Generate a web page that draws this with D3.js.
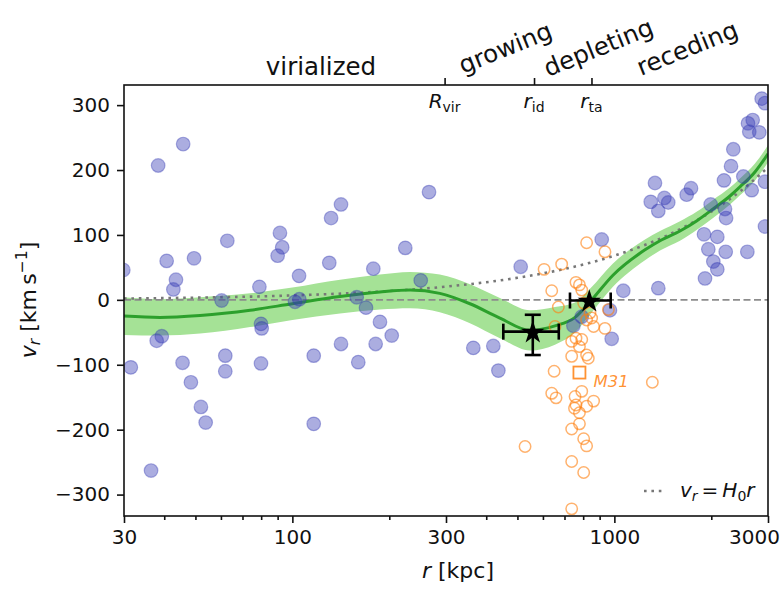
<!DOCTYPE html>
<html>
<head>
<meta charset="utf-8">
<script src="https://cdn.jsdelivr.net/npm/d3@7"></script>
<style>
  body { margin: 0; background: #fff; }
  text { font-family: "DejaVu Sans", sans-serif; fill: #111; }
</style>
</head>
<body>
<svg id="chart" width="783" height="589"></svg>
<script>
// ---------- data ----------
// satellites / field galaxies: distance r [kpc] and radial velocity v [km/s]
const blueR = [29.85, 38.3, 45.8, 40.7, 43.5, 42.7, 49.5, 62.8, 60.3, 79, 91.5, 93, 90, 104.9, 101.9, 105.1,
  131.9, 141.6, 130.2, 31.5, 37.9, 39.3, 45.6, 48.4, 52, 53.8, 36.4, 61.9, 61.9, 79.9, 80.3, 79.9,
  116.5, 116.5, 141.6, 178.4, 224.2, 250.4, 158.4, 169.3, 187.1, 203.5, 181.4, 160.2, 364.7, 420.8,
  436.3, 511.8, 913.5, 1066, 969, 792, 746, 981, 265.7, 1369, 1912, 1898, 2088, 1958, 2217, 2588,
  2029, 2088, 2936, 1991, 2206, 2223, 1337, 1297, 1369, 1430, 1470, 1677, 1730, 2190, 2303, 2515,
  2670, 2936, 2341, 2867, 2935, 2689, 2624, 2819, 2600];
const blueV = [46, 207, 240, 60, 31, 16, 64, 91, -1, 20, 103, 81, 68, 37, -3, 1,
  126, 147, 57, -104, -63, -56, -97, -127, -165, -189, -263, -86, -110, -37, -44, -98,
  -86, -191, -68, 48, 80, 30, 4, -12, -34, -55, -68, -96, -74, -71,
  -109, 51, 93, 14, -16, -26, -40, -60, 166, 18, 33, 101, 97, 78, 74, 74,
  59, 47, 113, 147, 140, 126, 180, 151, 137, 157, 150, 162, 172, 184, 206, 190,
  169, 182, 232, 310, 303, 277, 259, 258, 272];

// M31 satellites
const orangeR = [528, 605, 686, 639, 670, 654, 650, 639, 659, 737, 737, 737, 820, 935, 760, 779, 792, 803,
  840, 820, 862, 935, 958, 760, 792, 737, 779, 737, 820, 830, 755, 792, 760, 752, 820, 862, 779, 779,
  803, 820, 803, 1312, 850];
const orangeV = [-226, 47, 55, 14, -11, -41, -110, -144, -151, -199, -249, -322, 88, 74, 27, 23, 15, -5,
  -20, -31, -41, -44, -15, -59, -61, -64, -72, -87, -85, -90, -149, -141, -162, -167, -164, -156, -174, -191,
  -214, -225, -266, -127, -28];

const m31R = 779, m31V = -112;

// mean radial velocity profile and its 1-sigma half width
const curveR = [30, 38.8, 51.7, 73.9, 100, 140.6, 187, 232, 287, 356, 441, 547, 654, 755, 840, 990,
  1245, 1386, 1599, 1805, 2025, 2286, 2455, 2733, 3000];
const curveV = [-25, -27, -24, -16, -6, 5, 12, 15, 10, -6, -28, -47, -40, -27, -3, 38,
  77, 91, 106, 122, 140, 160, 174, 197, 225];
const curveErr = [29, 28, 28, 26, 25, 26, 27, 28, 29, 30, 31, 31, 29, 23, 20, 18,
  16, 15, 15, 14, 14, 13, 13, 13, 13];

// characteristic radii (stars with error bars)
const starR = [558, 836];
const starV = [-49, -1];
const starRLo = [452, 728], starRHi = [672, 974];
const starVLo = [-85, -4], starVHi = [-23, 3];

// Hubble flow reference
const H0 = 68; // km/s/Mpc
const hubbleR = [30, 50, 100, 200, 300, 500, 700, 1000, 1500, 2000, 2500, 3000];

// axes
const xMajor = [30, 100, 300, 1000, 3000];
const xMinor = [40, 50, 60, 70, 80, 90, 200, 400, 500, 600, 700, 800, 900, 2000];
const yTicks = [-300, -200, -100, 0, 100, 200, 300];
const topRadii = [297, 563, 849];
const topLabels = [["R", "vir"], ["r", "id"], ["r", "ta"]];
const regions = ["virialized", "growing", "depleting", "receding"];

// ---------- layout ----------
const svg = d3.select("#chart");
const P = { l: 124, r: 768, t: 85, b: 516 };
const x = d3.scaleLog().domain([30, 3000]).range([P.l, P.r]);
const y = d3.scaleLinear().domain([-333, 331]).range([P.b, P.t]);

svg.append("rect").attr("width", 783).attr("height", 589).attr("fill", "#fff");

svg.append("defs").append("clipPath").attr("id", "plotclip")
  .append("rect").attr("x", P.l).attr("y", P.t).attr("width", P.r - P.l).attr("height", P.b - P.t);

const plot = svg.append("g").attr("clip-path", "url(#plotclip)");

// band
const curve = curveR.map((r, i) => ({ r, v: curveV[i], e: curveErr[i] }));
plot.append("path").datum(curve)
  .attr("d", d3.area().x(d => x(d.r)).y0(d => y(d.v - d.e)).y1(d => y(d.v + d.e)).curve(d3.curveMonotoneX))
  .attr("fill", "rgb(165,226,150)");

// zero line
plot.append("line").attr("x1", P.l).attr("x2", P.r).attr("y1", y(0)).attr("y2", y(0))
  .attr("stroke", "#8c8c8c").attr("stroke-width", 1.8).attr("stroke-dasharray", "7,3.5");

// Hubble flow line
plot.append("path").datum(hubbleR)
  .attr("d", d3.line().x(r => x(r)).y(r => y(H0 * r / 1000)).curve(d3.curveMonotoneX))
  .attr("fill", "none").attr("stroke", "#777").attr("stroke-width", 2.6).attr("stroke-dasharray", "2.6,4.8");

// mean profile
plot.append("path").datum(curve)
  .attr("d", d3.line().x(d => x(d.r)).y(d => y(d.v)).curve(d3.curveMonotoneX))
  .attr("fill", "none").attr("stroke", "#2ca02c").attr("stroke-width", 3);

// galaxies
plot.append("g").selectAll("circle").data(blueR.map((r, i) => [r, blueV[i]])).join("circle")
  .attr("cx", d => x(d[0])).attr("cy", d => y(d[1])).attr("r", 6.8)
  .attr("fill", "rgb(55,60,180)").attr("fill-opacity", 0.42)
  .attr("stroke", "rgb(55,60,180)").attr("stroke-opacity", 0.4).attr("stroke-width", 1.2);

// M31 satellites
plot.append("g").selectAll("circle").data(orangeR.map((r, i) => [r, orangeV[i]])).join("circle")
  .attr("cx", d => x(d[0])).attr("cy", d => y(d[1])).attr("r", 5.7)
  .attr("fill", "none").attr("stroke", "#ff7f0e").attr("stroke-opacity", 0.6).attr("stroke-width", 1.5);

// M31 itself
plot.append("rect").attr("x", x(m31R) - 6).attr("y", y(m31V) - 6).attr("width", 12).attr("height", 12)
  .attr("fill", "none").attr("stroke", "#ff7f0e").attr("stroke-opacity", 0.85).attr("stroke-width", 1.8);
svg.append("text").attr("x", x(m31R) + 14).attr("y", y(m31V) + 14)
  .attr("font-size", 16.5).attr("font-style", "italic").style("fill", "#ff7f0e").style("fill-opacity", 0.85)
  .text("M31");

// stars with error bars
const eb = svg.append("g").attr("stroke", "#000").attr("stroke-width", 2.6);
starR.forEach((r, i) => {
  const cx = x(r), cy = y(starV[i]);
  const x0 = x(starRLo[i]), x1 = x(starRHi[i]);
  const y0 = y(starVLo[i]), y1 = y(starVHi[i]);
  eb.append("line").attr("x1", x0).attr("x2", x1).attr("y1", cy).attr("y2", cy);
  eb.append("line").attr("x1", x0).attr("x2", x0).attr("y1", cy - 8).attr("y2", cy + 8);
  eb.append("line").attr("x1", x1).attr("x2", x1).attr("y1", cy - 8).attr("y2", cy + 8);
  eb.append("line").attr("x1", cx).attr("x2", cx).attr("y1", y0).attr("y2", y1);
  if (Math.abs(y0 - y1) > 12) {
    eb.append("line").attr("x1", cx - 8).attr("x2", cx + 8).attr("y1", y0).attr("y2", y0);
    eb.append("line").attr("x1", cx - 8).attr("x2", cx + 8).attr("y1", y1).attr("y2", y1);
  }
  svg.append("path").attr("d", d3.symbol().type(d3.symbolStar).size(170)())
    .attr("transform", `translate(${cx},${cy + 1})`).attr("fill", "#000");
});

// ---------- axes ----------
function styleAxis(g) {
  g.select(".domain").remove();
  g.selectAll(".tick line").attr("stroke", "#111").attr("stroke-width", 1.6);
  g.selectAll(".tick text").attr("font-size", 20).style("font-family", "DejaVu Sans").attr("fill", "#111");
}
const xAxisG = svg.append("g").attr("transform", `translate(0,${P.b})`)
  .call(d3.axisBottom(x).tickValues(xMajor).tickFormat(d3.format("d")).tickSize(7).tickPadding(7))
  .call(styleAxis);
// keep the last label inside the canvas
xAxisG.selectAll(".tick text").filter(d => d === 3000).attr("dx", -14);
svg.append("g").attr("transform", `translate(0,${P.b})`)
  .call(d3.axisBottom(x).tickValues(xMinor).tickFormat("").tickSize(4))
  .call(styleAxis);
svg.append("g").attr("transform", `translate(${P.l},0)`)
  .call(d3.axisLeft(y).tickValues(yTicks).tickSize(7).tickPadding(7))
  .call(styleAxis);
svg.append("g").attr("transform", `translate(0,${P.t})`)
  .call(d3.axisTop(x).tickValues(topRadii).tickFormat("").tickSize(7))
  .call(styleAxis);

// frame
svg.append("rect").attr("x", P.l).attr("y", P.t).attr("width", P.r - P.l).attr("height", P.b - P.t)
  .attr("fill", "none").attr("stroke", "#111").attr("stroke-width", 1.6);

// radius labels under the top spine
topRadii.forEach((r, i) => {
  const t = svg.append("text").attr("x", x(r)).attr("y", 108).attr("text-anchor", "middle").attr("font-size", 20);
  t.append("tspan").attr("font-style", "italic").text(topLabels[i][0]);
  t.append("tspan").attr("font-size", 14).attr("dy", 4).text(topLabels[i][1]);
});

// region names
svg.append("text").attr("x", 321).attr("y", 75).attr("text-anchor", "middle").attr("font-size", 24.5).text(regions[0]);
const rotPos = [[463, 74], [548, 77], [641, 76]];
rotPos.forEach((p, i) => {
  svg.append("text").attr("transform", `translate(${p[0]},${p[1]}) rotate(-22)`)
    .attr("font-size", 24.5).text(regions[i + 1]);
});

// axis titles
const xl = svg.append("text").attr("x", 458).attr("y", 578).attr("text-anchor", "middle").attr("font-size", 22);
xl.append("tspan").attr("font-style", "italic").text("r");
xl.append("tspan").text(" [kpc]");

const yl = svg.append("text").attr("transform", "translate(36,300) rotate(-90)").attr("text-anchor", "middle").attr("font-size", 22);
yl.append("tspan").attr("font-style", "italic").text("v");
yl.append("tspan").attr("font-style", "italic").attr("font-size", 15.5).attr("dy", 4).text("r");
yl.append("tspan").attr("dy", -4).text(" [km\u2009s");
yl.append("tspan").attr("font-size", 15.5).attr("dy", -9).text("\u22121");
yl.append("tspan").attr("dy", 9).text("]");

// legend
svg.append("line").attr("x1", 644).attr("x2", 666).attr("y1", 491).attr("y2", 491)
  .attr("stroke", "#777").attr("stroke-width", 2.6).attr("stroke-dasharray", "2.6,4.8");
const lg = svg.append("text").attr("x", 680).attr("y", 497).attr("font-size", 20);
lg.append("tspan").attr("font-style", "italic").text("v");
lg.append("tspan").attr("font-style", "italic").attr("font-size", 14).attr("dy", 4).text("r");
lg.append("tspan").attr("dy", -4).text("\u2009=\u2009");
lg.append("tspan").attr("font-style", "italic").text("H");
lg.append("tspan").attr("font-size", 14).attr("dy", 4).text("0");
lg.append("tspan").attr("font-style", "italic").attr("dy", -4).text("r");
</script>
</body>
</html>
